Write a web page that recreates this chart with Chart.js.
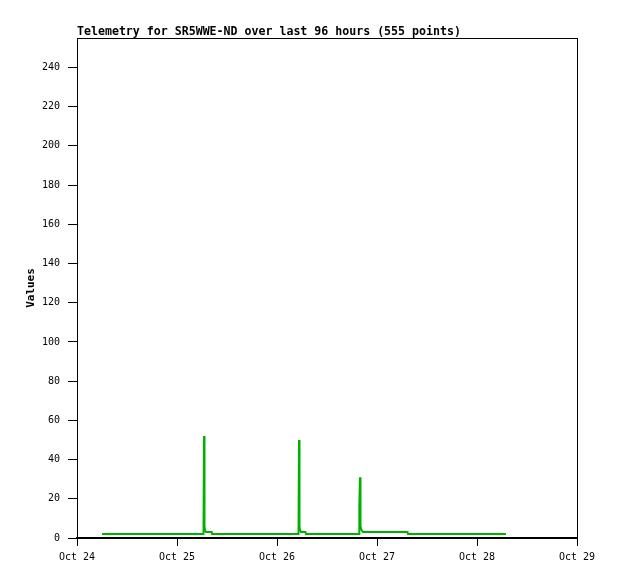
<!DOCTYPE html>
<html>
<head>
<meta charset="utf-8">
<script src="https://cdn.jsdelivr.net/npm/chart.js@4/dist/chart.umd.min.js"></script>
<style>
html,body{margin:0;padding:0;background:#fff;}
#wrap{width:618px;height:579px;position:relative;}
</style>
</head>
<body>
<div id="wrap"><canvas id="c" width="618" height="579"></canvas></div>
<script>
const chartTitle = "Telemetry for SR5WWE-ND over last 96 hours (555 points)";
const yTitle = "Values";
const xTickLabels = ["Oct 24", "Oct 25", "Oct 26", "Oct 27", "Oct 28", "Oct 29"];
// time in days since Oct 24 00:00
const times = [0.25, 1.265, 1.27, 1.275, 1.28, 1.29, 1.347, 1.35,
  2.215, 2.22, 2.225, 2.23, 2.24, 2.285, 2.29,
  2.82, 2.823, 2.83, 2.835, 2.845, 2.86, 3.305, 3.31, 4.29];
const values = [2, 2, 52, 6, 4, 3, 3, 2,
  2, 50, 6, 4, 3, 3, 2,
  2, 16, 31, 6, 4, 3, 3, 2, 2];

const pts = times.map((t, i) => ({x: t, y: values[i]}));

const frame = {
  id: 'frame',
  afterDraw(chart) {
    const {ctx, chartArea: a} = chart;
    ctx.save();
    ctx.strokeStyle = '#000';
    ctx.lineWidth = 1;
    ctx.strokeRect(a.left + 0.5, a.top + 0.5, a.right - a.left, a.bottom - a.top);
    ctx.font = 'bold 11.6px "DejaVu Sans Mono", monospace';
    ctx.fillStyle = '#000';
    ctx.textBaseline = 'alphabetic';
    ctx.textAlign = 'left';
    ctx.fillText(chartTitle, a.left, 35);
    ctx.restore();
  }
};

new Chart(document.getElementById('c'), {
  type: 'line',
  data: {
    datasets: [{
      data: pts,
      borderColor: '#00b000',
      borderWidth: 2,
      pointRadius: 0,
      fill: false,
      tension: 0
    }]
  },
  options: {
    responsive: false,
    animation: false,
    layout: {padding: {top: 38, right: 41, left: 0, bottom: 0}},
    plugins: {legend: {display: false}, tooltip: {enabled: false}},
    scales: {
      x: {
        type: 'linear',
        min: 0, max: 5,
        afterBuildTicks(s) { s.ticks = xTickLabels.map((_, i) => ({value: i})); },
        afterFit(s) { s.height = 41; },
        grid: {drawOnChartArea: false, drawTicks: true, tickLength: 8, color: '#000', tickWidth: 1},
        border: {display: true, color: '#000', width: 2},
        ticks: {
          color: '#000', padding: 5, maxRotation: 0, autoSkip: false,
          font: {family: '"DejaVu Sans Mono", monospace', size: 10},
          callback: (v) => xTickLabels[v]
        }
      },
      y: {
        min: 0, max: 255,
        afterBuildTicks(s) {
          const t = [];
          for (let v = 0; v <= 240; v += 20) t.push({value: v});
          s.ticks = t;
        },
        afterFit(s) { s.width = 77; },
        grid: {drawOnChartArea: false, drawTicks: true, tickLength: 9, color: '#000'},
        border: {display: true, color: '#000', width: 1},
        ticks: {
          color: '#000', padding: 8,
          font: {family: '"DejaVu Sans Mono", monospace', size: 10}
        },
        title: {
          display: true, text: yTitle, color: '#000',
          font: {family: '"DejaVu Sans Mono", monospace', size: 11, weight: 'bold'},
          padding: {top: 25, bottom: 0}
        }
      }
    }
  },
  plugins: [frame]
});
</script>
</body>
</html>
